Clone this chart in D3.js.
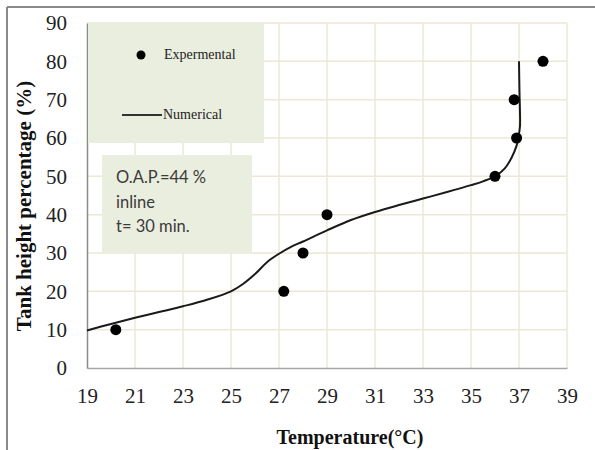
<!DOCTYPE html>
<html>
<head>
<meta charset="utf-8">
<script src="https://cdn.jsdelivr.net/npm/d3@7"></script>
<style>
  html, body { margin: 0; padding: 0; background: #fff; }
  svg { display: block; }
</style>
</head>
<body>
<svg id="chart" width="595" height="450"></svg>
<script>
// ---- data ----
const xTicks = [19, 21, 23, 25, 27, 29, 31, 33, 35, 37, 39];
const yTicks = [0, 10, 20, 30, 40, 50, 60, 70, 80, 90];
const expTemp = [20.2, 27.2, 28.0, 29.0, 36.0, 36.9, 36.8, 38.0];
const expHeight = [10, 20, 30, 40, 50, 60, 70, 80];
const numTemp = [19, 20, 21, 22, 23, 24, 25, 25.5, 26, 26.5, 27, 27.5, 28, 29, 30, 31, 32, 33, 34, 35, 35.5, 36, 36.4, 36.7, 36.9, 36.97, 37.04, 37.04, 37.02, 37.0];
const numHeight = [9.8, 11.5, 13.1, 14.6, 16.1, 17.8, 20.0, 21.9, 24.5, 27.6, 29.8, 31.6, 33.0, 35.9, 38.6, 40.7, 42.5, 44.2, 45.9, 47.7, 48.7, 50.0, 52.0, 55.0, 58.0, 60.0, 63.0, 67.0, 72.0, 80.0];
const legendLabels = ["Expermental", "Numerical"];
const noteLines = ["O.A.P.=44 %", "inline", "t= 30 min."];
const xTitle = "Temperature(\u00B0C)";
const yTitle = "Tank height percentage (%)";

// ---- layout ----
const svg = d3.select("#chart");
const L = 87, R = 567, T = 23, B = 368;
const x = d3.scaleLinear().domain([19, 39]).range([L, R]);
const y = d3.scaleLinear().domain([0, 90]).range([B, T]);
const serif = "'Liberation Serif', 'Times New Roman', serif";
const gridColor = "#ede7d5";
const boxFill = "#eaeedf";

// outer frame (top and left edges)
svg.append("line").attr("x1", 7).attr("x2", 595).attr("y1", 7).attr("y2", 7)
  .attr("stroke", "#8a8a8a").attr("stroke-width", 2);
svg.append("line").attr("x1", 7).attr("x2", 7).attr("y1", 7).attr("y2", 450)
  .attr("stroke", "#8a8a8a").attr("stroke-width", 2);

// gridlines
const grid = svg.append("g");
grid.selectAll("line.v").data(xTicks.slice(1)).join("line")
  .attr("x1", d => x(d)).attr("x2", d => x(d)).attr("y1", T).attr("y2", B)
  .attr("stroke", gridColor).attr("stroke-width", 1.5);
grid.selectAll("line.h").data(yTicks.slice(1)).join("line")
  .attr("x1", L).attr("x2", R).attr("y1", d => y(d)).attr("y2", d => y(d))
  .attr("stroke", gridColor).attr("stroke-width", 1.5);

// axes
const xAxis = svg.append("g").attr("transform", `translate(0,${B})`)
  .call(d3.axisBottom(x).tickValues(xTicks).tickSize(0).tickPadding(0).tickFormat(d3.format("d")));
xAxis.select(".domain").attr("stroke", "#a6a6a6").attr("stroke-width", 1.5);
xAxis.selectAll("text").attr("y", 35).attr("dy", 0)
  .attr("font-family", serif).attr("font-size", 21).attr("fill", "#222");

const yAxis = svg.append("g").attr("transform", `translate(${L},0)`)
  .call(d3.axisLeft(y).tickValues(yTicks).tickSize(0).tickPadding(20).tickFormat(d3.format("d")));
yAxis.select(".domain").attr("stroke", "#8c8c8c").attr("stroke-width", 1.5);
yAxis.selectAll("text").attr("font-family", serif).attr("font-size", 21).attr("fill", "#222");

// legend box
svg.append("rect").attr("x", L + 1).attr("y", T).attr("width", 176).attr("height", 120).attr("fill", boxFill);
svg.append("circle").attr("cx", 141).attr("cy", 55).attr("r", 4.5).attr("fill", "#000");
svg.append("text").attr("x", 164).attr("y", 59).text(legendLabels[0])
  .attr("font-family", serif).attr("font-size", 14).attr("fill", "#222");
svg.append("line").attr("x1", 122).attr("x2", 162).attr("y1", 115).attr("y2", 115)
  .attr("stroke", "#333").attr("stroke-width", 2);
svg.append("text").attr("x", 163).attr("y", 119).text(legendLabels[1])
  .attr("font-family", serif).attr("font-size", 14).attr("fill", "#222");

// note box
svg.append("rect").attr("x", 102).attr("y", 155).attr("width", 150).attr("height", 98).attr("fill", boxFill);
svg.append("g").selectAll("text").data(noteLines).join("text")
  .attr("x", 116).attr("y", (d, i) => 183 + i * 24.5)
  .attr("font-family", "Lato, 'Open Sans', sans-serif").attr("font-size", 16.5).attr("fill", "#3a3a3a")
  .text(d => d);

// numerical line
const lineData = numTemp.map((t, i) => [t, numHeight[i]]);
svg.append("path").datum(lineData)
  .attr("d", d3.line().x(d => x(d[0])).y(d => y(d[1])).curve(d3.curveCatmullRom.alpha(0.5)))
  .attr("fill", "none").attr("stroke", "#1a1a1a").attr("stroke-width", 2);

// experimental points
svg.append("g").selectAll("circle").data(expTemp.map((t, i) => [t, expHeight[i]])).join("circle")
  .attr("cx", d => x(d[0])).attr("cy", d => y(d[1])).attr("r", 5.5).attr("fill", "#000");

// axis titles
svg.append("text").attr("x", 350).attr("y", 444).attr("text-anchor", "middle")
  .attr("font-family", serif).attr("font-weight", "bold").attr("font-size", 20).attr("fill", "#111")
  .text(xTitle);
svg.append("text").attr("transform", "translate(31,206) rotate(-90)").attr("text-anchor", "middle")
  .attr("font-family", serif).attr("font-weight", "bold").attr("font-size", 21).attr("fill", "#111")
  .text(yTitle);
</script>
</body>
</html>
